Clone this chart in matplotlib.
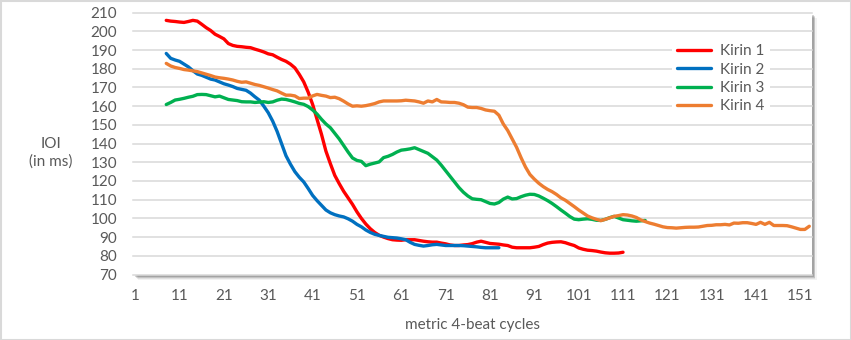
import matplotlib
matplotlib.use("Agg")
import matplotlib.pyplot as plt
from matplotlib.patches import Rectangle

# cycles (category axis 1..153), each series starts at cycle 8
kirin1_start = 8
kirin1 = [205.9, 205.5, 205.3, 205.0, 204.8, 205.3, 205.9, 205.5, 203.8, 202.0,
          200.5, 198.5, 197.3, 196.0, 193.5, 192.5, 192.0, 191.8, 191.5, 191.3,
          190.5, 189.8, 189.0, 188.0, 187.5, 186.2, 185.0, 184.0, 182.5, 180.5,
          177.0, 173.0, 167.5, 161.0, 153.0, 145.0, 136.0, 129.3, 123.0, 118.6,
          114.5, 111.0, 107.5, 103.5, 100.0, 97.0, 94.5, 92.5, 91.0, 90.0,
          89.2, 88.6, 88.4, 88.3, 88.6, 88.6, 88.6, 88.2, 87.8, 87.5,
          87.3, 87.3, 86.8, 86.4, 85.8, 85.5, 85.5, 85.8, 86.0, 86.5,
          87.3, 87.8, 87.2, 86.6, 86.4, 86.2, 85.8, 85.5, 84.6, 84.3,
          84.3, 84.3, 84.3, 84.6, 85.0, 86.0, 86.8, 87.2, 87.4, 87.5,
          87.0, 86.2, 85.5, 84.2, 83.5, 83.0, 82.8, 82.5, 82.0, 81.6,
          81.4, 81.4, 81.5, 81.9]

kirin2_start = 8
kirin2 = [188.2, 185.6, 184.7, 184.0, 182.5, 181.0, 179.0, 177.2, 176.5, 175.5,
          174.5, 174.0, 173.0, 172.0, 171.3, 170.5, 169.5, 169.0, 168.5, 167.0,
          165.0, 163.2, 160.0, 156.5, 152.0, 146.5, 140.0, 133.5, 129.0, 125.0,
          122.0, 119.5, 116.0, 112.3, 109.5, 107.0, 104.5, 103.0, 102.0, 101.3,
          100.8, 99.8, 98.5, 96.8, 95.5, 93.8, 92.5, 91.5, 90.9, 90.4,
          89.9, 89.7, 89.5, 89.1, 88.6, 87.2, 86.1, 85.6, 85.2, 85.5,
          85.9, 86.1, 85.8, 85.5, 85.5, 85.5, 85.5, 85.4, 85.2, 85.0,
          84.8, 84.5, 84.3, 84.3, 84.3, 84.3]

kirin3_start = 8
kirin3 = [160.9, 162.0, 163.3, 163.7, 164.2, 164.8, 165.3, 166.2, 166.3, 166.2,
          165.6, 165.0, 165.4, 164.5, 163.6, 163.3, 163.0, 162.4, 162.3, 162.3,
          162.0, 162.2, 162.4, 162.0, 162.3, 163.2, 163.8, 163.6, 163.0, 162.3,
          161.5, 161.0, 159.8, 158.0, 155.8, 153.0, 150.5, 148.5, 145.5, 142.5,
          139.0, 135.5, 132.3, 131.0, 130.5, 128.2, 129.0, 129.6, 130.2, 132.5,
          133.2, 134.2, 135.5, 136.5, 136.8, 137.2, 137.8, 136.8, 135.8, 134.8,
          133.0, 131.2, 128.5, 125.5, 122.5, 119.5, 116.5, 114.0, 112.0, 110.5,
          110.2, 110.0, 109.0, 108.0, 107.7, 108.5, 110.3, 111.4, 110.4, 110.6,
          111.6, 112.4, 112.9, 112.8, 112.0, 110.8, 109.5, 108.0, 106.3, 104.5,
          102.8, 101.0, 99.6, 99.3, 99.6, 99.8, 99.5, 99.0, 98.9, 99.5,
          100.4, 101.1, 100.2, 99.3, 99.0, 98.7, 98.5, 98.7, 98.9]

kirin4_start = 8
kirin4 = [182.9, 181.5, 180.7, 180.2, 179.6, 179.3, 178.9, 178.5, 177.8, 177.1,
          176.4, 175.6, 175.2, 174.9, 174.5, 174.0, 173.3, 172.8, 173.0, 172.3,
          171.6, 171.1, 170.4, 169.7, 168.9, 168.2, 167.0, 165.9, 165.9, 165.5,
          164.1, 164.3, 164.3, 165.5, 166.3, 165.8, 165.4, 164.6, 164.8, 164.0,
          162.7, 161.2, 160.0, 160.2, 160.0, 160.3, 160.8, 161.4, 162.3, 162.8,
          162.8, 162.8, 162.8, 162.9, 163.2, 163.0, 162.8, 162.3, 161.6, 162.8,
          162.3, 163.6, 162.3, 162.2, 162.0, 162.0, 161.6, 160.8, 159.5, 159.3,
          159.3, 158.8, 158.0, 157.6, 157.3, 155.2, 150.5, 147.0, 142.5, 138.0,
          132.5, 127.5, 123.5, 121.0, 118.8, 117.0, 115.5, 114.3, 112.8, 111.0,
          109.7, 108.0, 106.3, 104.5, 102.9, 101.3, 100.3, 99.5, 98.8, 99.5,
          100.3, 101.1, 101.5, 102.0, 101.8, 101.3, 100.5, 99.2, 98.3, 97.5,
          96.9, 96.2, 95.5, 95.1, 95.0, 94.8, 95.0, 95.2, 95.3, 95.3,
          95.4, 95.8, 96.2, 96.3, 96.6, 96.6, 96.8, 96.5, 97.5, 97.4,
          97.7, 97.7, 97.3, 96.8, 97.9, 96.8, 97.9, 96.2, 96.2, 96.2,
          96.1, 95.5, 94.8, 94.1, 94.1, 95.8]

series = [("Kirin 1", kirin1_start, kirin1, "#FF0000"),
          ("Kirin 2", kirin2_start, kirin2, "#0070C0"),
          ("Kirin 3", kirin3_start, kirin3, "#00B050"),
          ("Kirin 4", kirin4_start, kirin4, "#ED7D31")]

n_cycles = 153
x_ticks = list(range(1, 152, 10))
y_ticks = list(range(70, 211, 10))

W, H = 851, 340
text_col = "#595959"
fs = 11
plt.rcParams["font.family"] = ["Lato", "DejaVu Sans"]

fig = plt.figure(figsize=(W / 100, H / 100), dpi=100)

# plot area in pixels
left, right, top, bottom = 133, 811.5, 12.7, 274.5
ax = fig.add_axes([left / W, 1 - bottom / H, (right - left) / W, (bottom - top) / H])
ax.set_zorder(2)

# soft shadow behind plot area (right / bottom)
for off, a in [(5, 0.05), (4, 0.08), (3, 0.12), (2, 0.16)]:
	fig.add_artist(Rectangle(((left + off) / W, 1 - (bottom + off) / H),
							 (right - left) / W, (bottom - top) / H,
							 transform=fig.transFigure, facecolor="black",
							 edgecolor="none", alpha=a, zorder=0))

# outer chart border
fig.add_artist(Rectangle((0, 0), 1, 1, transform=fig.transFigure, fill=False,
						 edgecolor="#D9D9D9", linewidth=2.2, zorder=5))

for name, start, vals, col in series:
	xs = list(range(start, start + len(vals)))
	ax.plot(xs, vals, color=col, lw=2.4, label=name,
			solid_capstyle="round", solid_joinstyle="round", zorder=3)

ax.set_xlim(0.5, n_cycles + 0.5)
ax.set_ylim(70, 210)
ax.set_xticks(x_ticks)
ax.set_xticklabels([str(t) for t in x_ticks])
ax.set_yticks(y_ticks)
ax.tick_params(axis="both", length=0, labelsize=fs, labelcolor=text_col)
ax.tick_params(axis="y", pad=11.5)
ax.tick_params(axis="x", pad=10.5)
ax.grid(axis="y", color="#D9D9D9", lw=1.1)
ax.set_axisbelow(True)
for gl in ax.get_ygridlines():
	gl.set_clip_on(False)
for s in ax.spines.values():
	s.set_visible(False)

fig.text(51 / W, 1 - 153 / H, "IOI\n(in ms)", ha="center", va="center",
		 fontsize=fs, color=text_col, linespacing=1.3)
fig.text(472 / W, 1 - 325 / H, "metric 4-beat cycles", ha="center", va="center",
		 fontsize=fs, color=text_col)

leg = ax.legend(loc="upper left", bbox_to_anchor=(672 / W, 1 - 39 / H),
				bbox_transform=fig.transFigure, fontsize=fs, frameon=True,
				fancybox=False, framealpha=1, edgecolor="none", facecolor="white",
				handlelength=2.2, handletextpad=0.6, labelspacing=0.28,
				borderpad=0.35, borderaxespad=0)
for t in leg.get_texts():
	t.set_color(text_col)

fig.savefig("out.png", dpi=100)
plt.close()
